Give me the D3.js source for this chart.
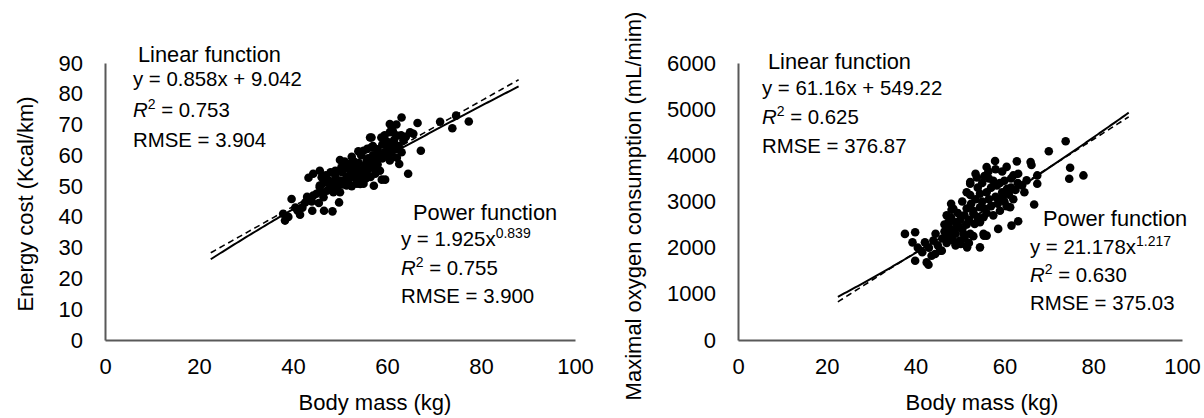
<!DOCTYPE html>
<html>
<head>
<meta charset="utf-8">
<script src="https://cdn.jsdelivr.net/npm/d3@7"></script>
<style>
  html, body { margin: 0; padding: 0; background: #fff; }
  svg { display: block; font-family: "Liberation Sans", Arial, sans-serif; }
</style>
</head>
<body>
<svg id="chart" width="1204" height="418"></svg>
<script>
// Body mass (kg) vs energy cost (Kcal/km)
const energyPoints = [
  [38.3,38.8],[37.9,41.0],[39.7,45.8],[41.5,40.7],[42.6,44.7],[44.1,42.0],[46.6,42.0],[48.4,41.8],
  [44.3,46.9],[49.8,44.7],[43.3,52.7],[44.3,54.0],[45.7,55.0],[46.1,52.9],[45.7,49.6],[47.9,50.2],
  [50.0,58.5],[50.3,56.1],[52.1,57.2],[53.9,61.3],[55.8,62.1],[56.4,65.8],[58.8,65.8],[60.6,67.5],
  [61.2,67.8],[62.1,66.4],[63.5,64.8],[64.9,67.5],[65.6,67.0],[63.1,72.3],[60.6,70.2],[66.5,70.5],
  [71.3,70.9],[74.7,72.9],[73.9,68.8],[77.4,71.0],[67.2,61.5],[64.5,54.0],[62.6,57.2],[57.2,50.1],
  [59.6,52.1],[58.9,52.1],[47.2,48.5],[48.6,48.0],[46.5,46.4],[55.7,58.3],[57.8,60.5],[59.9,63.1],
  [60.6,58.3],[62.1,59.2],[54.3,55.0],[52.9,54.0],[51.5,53.0],[50.0,51.8],[53.6,50.8],[55.0,50.8],
  [54.3,50.7],[50.0,48.0],[40.5,43.0],[41.0,42.0],[39.0,40.0],[45.7,50.2],[51.4,50.2],[56.7,65.8],
  [56.7,62.6],[63.1,61.0],[60.6,58.8],[61.3,67.5],[63.5,65.8],
  [47.5,52.0],[48.5,51.5],[49.0,53.5],[49.5,50.0],[50.5,50.5],[51.0,52.0],[51.5,51.0],[52.0,52.5],
  [52.5,50.0],[52.0,55.5],[53.0,53.0],[53.5,56.0],[53.0,58.0],[54.0,57.5],[54.5,53.5],[55.0,55.5],
  [55.5,54.0],[55.5,57.0],[56.0,59.0],[56.0,55.5],[56.5,57.5],[57.0,56.0],[57.0,60.0],[57.5,58.5],
  [58.0,57.0],[58.0,62.0],[58.5,60.0],[59.0,59.0],[59.0,63.5],[59.5,61.0],[60.0,60.0],[60.0,64.5],
  [60.5,62.5],[61.0,61.0],[61.5,63.5],[61.5,65.0],[62.0,62.0],[62.5,63.0],[63.0,66.5],[64.0,66.0],
  [49.0,55.0],[48.0,54.5],[47.0,53.5],[46.5,51.0],[48.5,49.5],[50.5,54.5],[51.5,56.0],[52.5,54.0],
  [53.5,52.0],[54.0,51.5],[55.5,52.5],[56.5,53.0],[57.5,54.0],[58.5,55.0],[51.0,58.0],[52.5,59.5],
  [54.5,60.0],[55.0,61.5],[57.0,63.0],[59.5,66.5],[61.0,69.0],[62.0,70.0],[44.0,45.0],[45.0,47.5],
  [46.0,48.0],[43.0,46.5],[45.5,44.5],[42.0,43.0]
];

// Body mass (kg) vs maximal oxygen consumption (mL/min)
const vo2Points = [
  [73.8,4304],[70.0,4087],[74.8,3732],[74.6,3493],[77.8,3565],[66.7,2935],[67.4,3565],[67.4,3384],
  [65.9,3855],[66.1,3790],[62.8,3870],[57.9,3876],[56.0,3746],[56.4,3650],[52.3,3420],[53.8,3520],
  [54.5,3167],[52.3,3140],[48.5,2841],[47.4,2515],[37.6,2298],[39.9,2333],[39.3,2115],[42.1,2115],
  [44.0,2152],[44.4,1863],[45.9,1935],[58.6,2407],[61.6,2478],[63.1,2572],[58.3,3348],[60.6,3275],
  [62.0,3565],[63.1,3600],[65.0,3457],[59.4,3080],[61.3,2876],[55.3,2659],[54.5,2876],[53.0,2733],
  [53.3,2515],[50.8,2298],[52.3,2298],[55.3,2298],[54.5,2007],[50.0,2152],[39.9,1717],[42.5,1681],
  [43.6,1826],[45.5,1935],[56.0,2261],[50.2,2080],[51.6,2007],[42.9,1630],[48.1,2820],[47.4,2550],
  [52.3,3385],[55.4,2260],
  [46.0,2200],[46.5,2350],[47.0,2100],[47.5,2250],[48.0,2400],[48.5,2150],[49.0,2300],[49.0,2550],
  [49.5,2450],[50.0,2600],[50.5,2400],[51.0,2700],[51.5,2500],[51.5,2850],[52.0,2600],[52.5,2950],
  [53.0,2800],[53.5,3050],[54.0,2650],[54.0,3300],[54.5,2550],[55.0,3000],[55.0,3400],[55.5,2850],
  [56.0,3200],[56.0,2750],[56.5,3050],[57.0,3300],[57.0,2900],[57.5,3450],[57.5,2700],[58.0,3100],
  [58.5,2950],[59.0,3400],[59.0,2800],[59.5,3200],[60.0,3000],[60.0,3450],[60.5,2900],[61.0,3150],
  [61.5,3300],[62.0,3050],[62.5,3250],[63.0,3400],[64.0,3350],[64.5,3200],[47.0,2700],[48.0,2950],
  [49.5,2750],[51.0,2200],[52.0,2100],[53.0,2250],[50.5,3000],[51.5,3200],[53.5,3600],[55.5,3550],
  [56.5,3500],[58.0,3700],[59.5,3650],[60.5,3750],[61.5,3500],[49.0,2050],[45.0,2050],[44.5,2300],
  [46.5,2500],[48.0,2650],[40.5,2000],[41.5,1900],[43.0,2000]
];

const massTicks = [0, 20, 40, 60, 80, 100];
const energyTicks = [0, 10, 20, 30, 40, 50, 60, 70, 80, 90];
const vo2Ticks = [0, 1000, 2000, 3000, 4000, 5000, 6000];
const fitRange = [22.5, 88];

// fitted curves: [slope, intercept] and [coefficient, exponent]
const energyLinear = [0.858, 9.042];
const energyPower = [1.925, 0.839];
const vo2Linear = [61.16, -549.22];
const vo2Power = [21.178, 1.217];

const svg = d3.select("#chart");

function drawPanel(p) {
  const g = svg.append("g");
  const x = d3.scaleLinear().domain([0, 100]).range(p.xRange);
  const y = d3.scaleLinear().domain(p.yDomain).range([340, 63]);

  // fitted lines
  const xs = d3.range(fitRange[0], fitRange[1] + 0.001, 0.5);
  const lineGen = f => d3.line().x(d => x(d)).y(d => y(f(d)))(xs);
  g.append("path")
    .attr("d", lineGen(v => p.linear[0] * v + p.linear[1]))
    .attr("fill", "none").attr("stroke", "#000").attr("stroke-width", 1.6)
    .attr("stroke-dasharray", "6,4");
  g.append("path")
    .attr("d", lineGen(v => p.power[0] * Math.pow(v, p.power[1])))
    .attr("fill", "none").attr("stroke", "#000").attr("stroke-width", 2);

  // points
  g.append("g").selectAll("circle").data(p.points).join("circle")
    .attr("cx", d => x(d[0])).attr("cy", d => y(d[1])).attr("r", 4.3)
    .attr("fill", "#000");

  // axes
  const xAxis = g.append("g").attr("transform", "translate(0,340)")
    .call(d3.axisBottom(x).tickValues(massTicks).tickSize(0).tickPadding(18.5).tickFormat(d3.format("d")));
  const yAxis = g.append("g").attr("transform", `translate(${p.xRange[0]},0)`)
    .call(d3.axisLeft(y).tickValues(p.yTicks).tickSize(0).tickPadding(22).tickFormat(d3.format("d")));
  [xAxis, yAxis].forEach(a => {
    a.select(".domain").attr("stroke", "#595959").attr("stroke-width", 2);
    a.selectAll("text").attr("font-size", 22).attr("fill", "#000")
      .attr("font-family", '"Liberation Sans", Arial, sans-serif');
  });

  // axis titles
  g.append("text").attr("x", p.xTitleX).attr("y", 410).attr("text-anchor", "middle")
    .attr("font-size", 22).text("Body mass (kg)");
  g.append("text").attr("transform", `translate(${p.yTitleX},${p.yTitleY}) rotate(-90)`)
    .attr("text-anchor", "middle").attr("font-size", 22).text(p.yTitle);

  // equation blocks
  p.blocks.forEach(b => {
    g.append("text").attr("x", b.titleX).attr("y", b.ys[0]).attr("font-size", 21.8).text(b.title);
    const eq = g.append("text").attr("x", b.x).attr("y", b.ys[1]).attr("font-size", 20.4);
    eq.append("tspan").text(b.eq);
    if (b.sup) {
      eq.append("tspan").attr("font-size", 14).attr("dy", -8).text(b.sup);
    }
    const r2 = g.append("text").attr("x", b.x).attr("y", b.ys[2]).attr("font-size", 20.4);
    r2.append("tspan").attr("font-style", "italic").text("R");
    r2.append("tspan").attr("font-size", 14).attr("dy", -8).text("2");
    r2.append("tspan").attr("dy", 8).text(" = " + b.r2);
    g.append("text").attr("x", b.x).attr("y", b.ys[3]).attr("font-size", 20.4).text("RMSE = " + b.rmse);
  });
}

drawPanel({
  points: energyPoints, xRange: [105, 575], yDomain: [0, 90], yTicks: energyTicks,
  linear: energyLinear, power: energyPower,
  xTitleX: 375, yTitleX: 33, yTitleY: 204, yTitle: "Energy cost (Kcal/km)",
  blocks: [
    { title: "Linear function", titleX: 138, x: 133, ys: [62, 86, 116.5, 146.5],
      eq: "y = 0.858x + 9.042", r2: "0.753", rmse: "3.904" },
    { title: "Power function", titleX: 413, x: 401, ys: [219.5, 246, 274.5, 303],
      eq: "y = 1.925x", sup: "0.839", r2: "0.755", rmse: "3.900" }
  ]
});

drawPanel({
  points: vo2Points, xRange: [738, 1182], yDomain: [0, 6000], yTicks: vo2Ticks,
  linear: vo2Linear, power: vo2Power,
  xTitleX: 982, yTitleX: 641, yTitleY: 206, yTitle: "Maximal oxygen consumption (mL/mim)",
  blocks: [
    { title: "Linear function", titleX: 768, x: 762, ys: [68.5, 95, 123.5, 153],
      eq: "y = 61.16x + 549.22", r2: "0.625", rmse: "376.87" },
    { title: "Power function", titleX: 1043, x: 1030, ys: [226, 253.5, 282, 310],
      eq: "y = 21.178x", sup: "1.217", r2: "0.630", rmse: "375.03" }
  ]
});
</script>
</body>
</html>
